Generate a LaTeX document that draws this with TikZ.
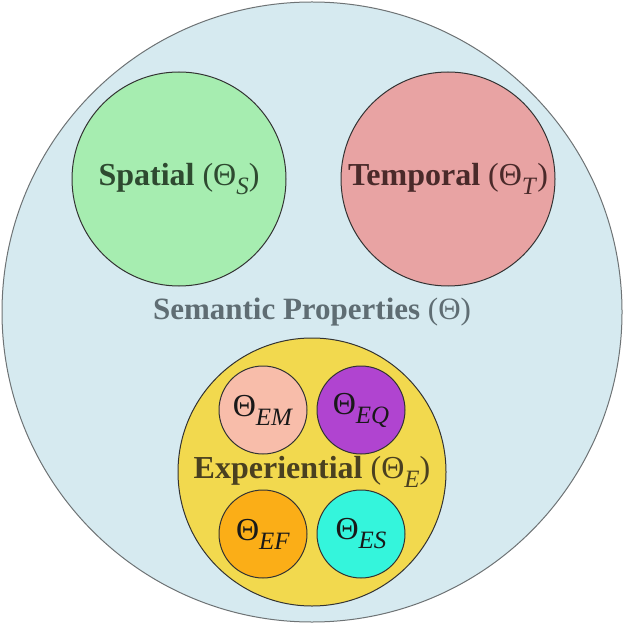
\documentclass[tikz,border=0pt]{standalone}
\usepackage{fontspec}
\setmainfont{Liberation Serif}
\usetikzlibrary{positioning}

\definecolor{semfill}{HTML}{D6EAF0}
\definecolor{semdraw}{HTML}{6E7375}
\definecolor{semtext}{HTML}{5F6D73}
\definecolor{spafill}{HTML}{A6EDB0}
\definecolor{spatext}{HTML}{2E4A30}
\definecolor{temfill}{HTML}{E8A3A3}
\definecolor{temtext}{HTML}{4A2A2A}
\definecolor{expfill}{HTML}{F2D94E}
\definecolor{exptext}{HTML}{4A4020}
\definecolor{emfill}{HTML}{F8BDAA}
\definecolor{eqfill}{HTML}{B044D0}
\definecolor{effill}{HTML}{FBAE17}
\definecolor{esfill}{HTML}{34F5DC}

% Theta with an italic subscript
\newcommand{\thsub}[1]{Θ\raisebox{-0.28em}{\scalebox{0.78}{\textit{#1}}}}

\begin{document}
\begin{tikzpicture}[
  x=0.5pt, y=-0.5pt,
  bubble/.style={circle, draw=black!80, line width=0.5pt, inner sep=0pt, align=center},
  outer/.style={bubble, draw=semdraw, fill=semfill, minimum size=310pt, text=semtext, font=\fontsize{15.5}{18}\selectfont},
  group/.style={bubble, minimum size=107pt, font=\fontsize{16}{19}\selectfont},
  inner/.style={bubble, minimum size=44pt, text=black!90, font=\fontsize{16}{19}\selectfont}
]
\useasboundingbox (0,0) rectangle (625,625);

\node[outer] (sem) at (312,312) {\textbf{Semantic Properties} (Θ)};

\node[group, fill=spafill, text=spatext] (spa) at (179,179) {\textbf{Spatial} (\thsub{S})};
\node[group, fill=temfill, text=temtext] (tem) at (448,179) {\textbf{Temporal} (\thsub{T})};

\node[bubble, fill=expfill, text=exptext, minimum size=134pt, font=\fontsize{16}{19}\selectfont] (exp) at (312,472) {\textbf{Experiential} (\thsub{E})};

\node[inner, fill=emfill] (em) at (263,410) {\thsub{EM}};
\node[inner, fill=eqfill] (eq) at (361,410) {\thsub{EQ}};
\node[inner, fill=effill] (ef) at (263,534) {\thsub{EF}};
\node[inner, fill=esfill] (es) at (361,534) {\thsub{ES}};

\end{tikzpicture}
\end{document}
